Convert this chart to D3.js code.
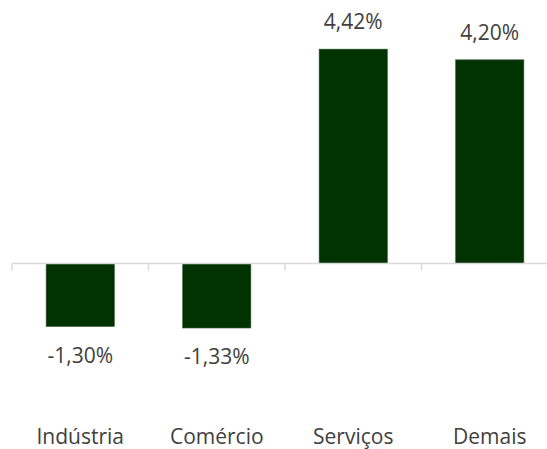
<!DOCTYPE html>
<meta charset="utf-8">
<body>
<svg id="chart"></svg>
<script src="https://d3js.org/d3.v7.min.js"></script>
<script>
// categories and values (percent)
var categories = ["Indústria", "Comércio", "Serviços", "Demais"];
var values = [-1.30, -1.33, 4.42, 4.20];
var labels = ["-1,30%", "-1,33%", "4,42%", "4,20%"];

var width = 547, height = 449;

var svg = d3.select("#chart")
    .attr("width", width)
    .attr("height", height);

// the plot area runs past the right edge of the picture
var x = d3.scaleBand()
    .domain(categories)
    .range([12, 558])
    .paddingInner(0.5)
    .paddingOuter(0.25);

var y = d3.scaleLinear()
    .domain([-1.5, 4.5])
    .range([336.25, 45.25]);

var zero = y(0);

// bars
svg.append("g").selectAll("rect")
    .data(values)
    .enter().append("rect")
    .attr("x", (d, i) => x(categories[i]))
    .attr("width", x.bandwidth())
    .attr("y", d => y(Math.max(0, d)))
    .attr("height", d => Math.abs(y(d) - zero))
    .attr("fill", "#003300")
    .attr("stroke", "#3d5e3d")
    .attr("stroke-width", 0.6);

// axis line and ticks at band edges
var axis = svg.append("g").attr("class", "axis");
axis.append("line")
    .attr("x1", 12).attr("x2", width)
    .attr("y1", zero).attr("y2", zero);
var edges = categories.map(c => x(c) - x.step() * x.paddingInner() / 2);
edges.push(x.range()[1]);
axis.selectAll("line.tick")
    .data(edges)
    .enter().append("line")
    .attr("class", "tick")
    .attr("x1", d => d).attr("x2", d => d)
    .attr("y1", zero).attr("y2", zero + 7);

// value labels
svg.append("g").selectAll("text")
    .data(values)
    .enter().append("text")
    .attr("class", "val")
    .attr("x", (d, i) => x(categories[i]) + x.bandwidth() / 2)
    .attr("y", d => d >= 0 ? y(d) - 20 : y(d) + 36)
    .text((d, i) => labels[i]);

// category labels
svg.append("g").selectAll("text")
    .data(categories)
    .enter().append("text")
    .attr("class", "cat")
    .attr("x", d => x(d) + x.bandwidth() / 2)
    .attr("y", 444)
    .text(d => d);
</script>
<style>
  body { margin: 0; background: #fff; overflow: hidden; }
  svg { display: block; }
  .axis line { stroke: #d9d9d9; stroke-width: 1.5px; }
  text {
    font-family: "Open Sans", sans-serif;
    font-size: 21px;
    fill: #404040;
    text-anchor: middle;
  }
</style>
</body>
